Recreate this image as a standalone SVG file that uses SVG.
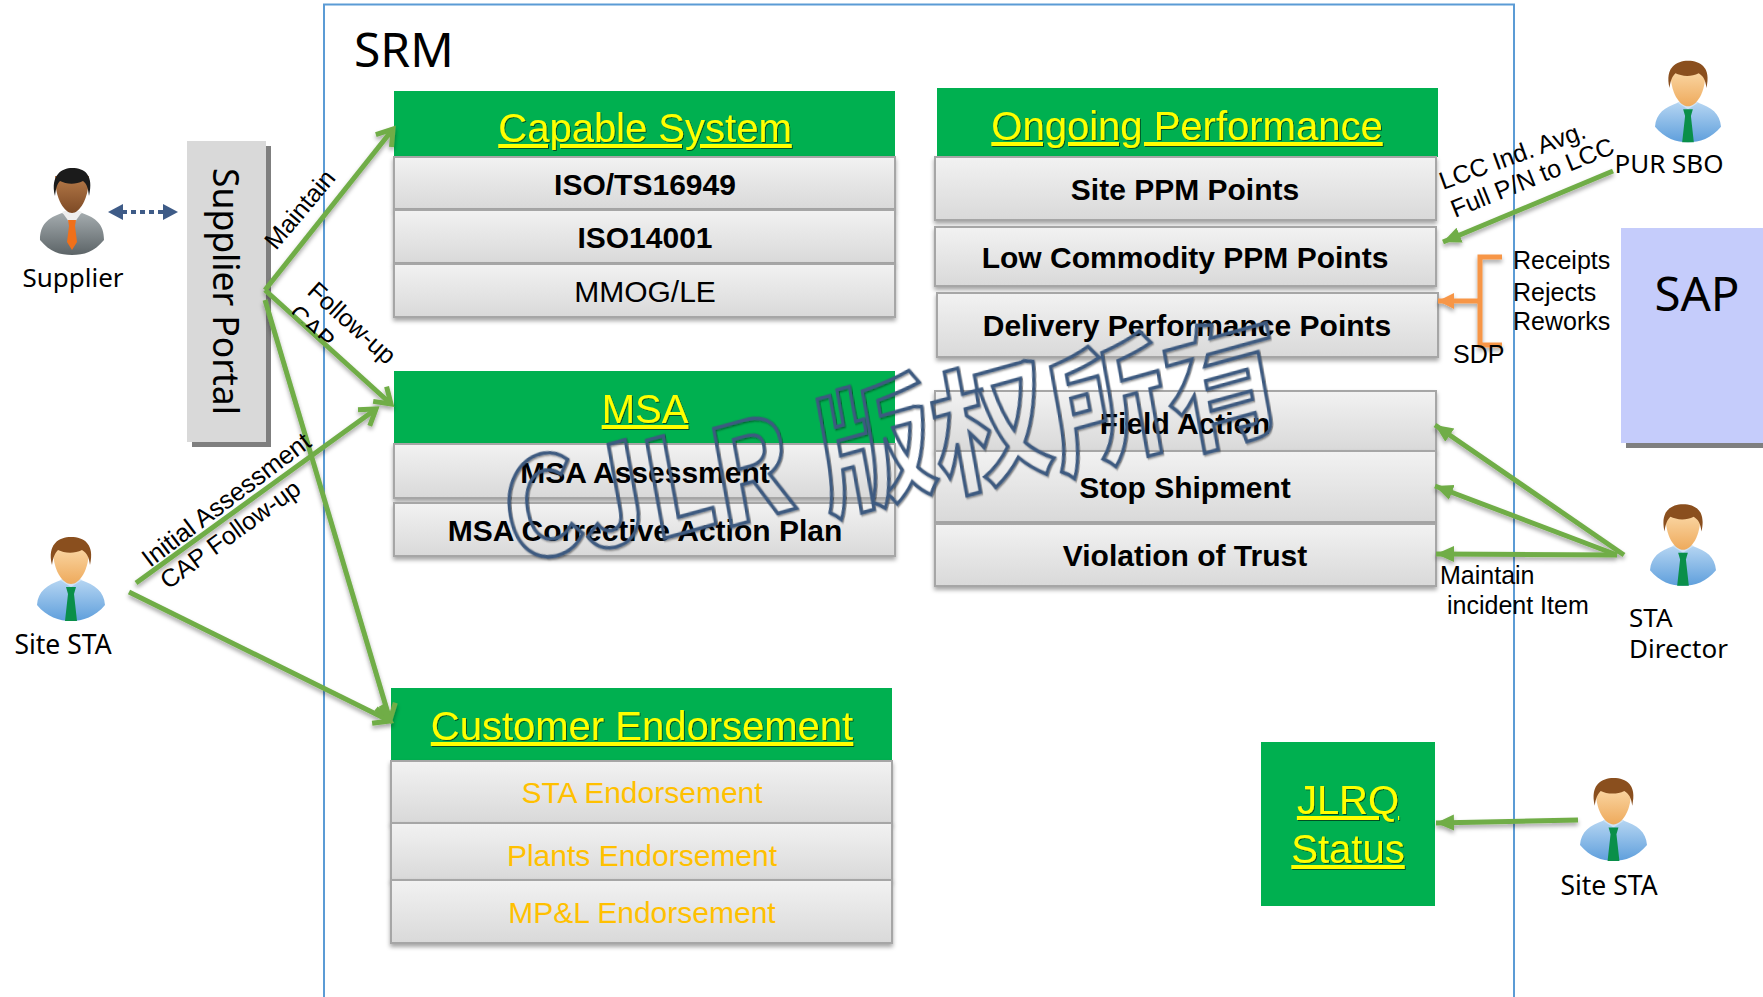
<svg xmlns="http://www.w3.org/2000/svg" width="1763" height="997" viewBox="0 0 1763 997">
<style>
text{font-family:"Liberation Sans",Arial,sans-serif;fill:#000}
.ui{font-family:"Noto Sans","Open Sans",sans-serif}
.lb{font-size:25px}
.rl{font-size:25px}
.hd{font-size:40px;fill:#ff0;text-decoration:underline;text-anchor:middle;filter:url(#ts)}
.bd{font-size:30px;font-weight:bold;text-anchor:middle}
.rg{font-size:30px;text-anchor:middle}
.gd{font-size:30px;text-anchor:middle;fill:#ffc000}
.head{fill:#00b050}
.row{fill:url(#rowg);stroke:#a6a6a6;stroke-width:2;filter:url(#sd)}
.ln{fill:none;stroke:#70ad47;stroke-width:5}
.sh{filter:url(#sd)}
.wm{font-family:"Noto Sans CJK SC","Liberation Sans",sans-serif;font-weight:700;font-size:118px;fill:none;stroke:#3d5a80;stroke-width:3;filter:url(#ts)}
</style>
<defs>
<linearGradient id="rowg" x1="0" y1="0" x2="0" y2="1"><stop offset="0" stop-color="#f2f2f2"/><stop offset="1" stop-color="#d9d9d9"/></linearGradient>
<linearGradient id="shirt" x1="0" y1="0" x2="0" y2="1"><stop offset="0" stop-color="#b5d5f2"/><stop offset="1" stop-color="#5f9fdc"/></linearGradient>
<linearGradient id="skin" x1="0" y1="0" x2="0" y2="1"><stop offset="0" stop-color="#fbd9a8"/><stop offset="1" stop-color="#eeaa5c"/></linearGradient>
<linearGradient id="suit" x1="0" y1="0" x2="0" y2="1"><stop offset="0" stop-color="#a4abae"/><stop offset="1" stop-color="#5c6467"/></linearGradient>
<linearGradient id="dskin" x1="0" y1="0" x2="0" y2="1"><stop offset="0" stop-color="#b67a49"/><stop offset="1" stop-color="#7d4a25"/></linearGradient>
<filter id="sd" x="-10%" y="-20%" width="120%" height="150%"><feDropShadow dx="0" dy="3" stdDeviation="2" flood-color="#000" flood-opacity=".35"/></filter>
<filter id="ts" x="-10%" y="-20%" width="120%" height="140%"><feDropShadow dx="1" dy="1" stdDeviation=".7" flood-color="#000" flood-opacity=".55"/></filter>
<clipPath id="capclip"><rect x="-5" y="-30" width="70" height="25"/></clipPath>
<marker id="open" markerUnits="userSpaceOnUse" markerWidth="30" markerHeight="30" refX="20" refY="15" orient="auto"><path d="M5 5 L20 15 L5 25" fill="none" stroke="#70ad47" stroke-width="5"/></marker>
<marker id="tri" markerUnits="userSpaceOnUse" markerWidth="20" markerHeight="20" refX="18" refY="10" orient="auto"><path d="M0 2 L18 10 L0 18 Z" fill="#70ad47"/></marker>
<marker id="org" markerUnits="userSpaceOnUse" markerWidth="20" markerHeight="20" refX="16" refY="10" orient="auto"><path d="M0 2 L16 10 L0 18 Z" fill="#f79646"/></marker>
<marker id="blS" markerUnits="userSpaceOnUse" markerWidth="16" markerHeight="18" refX="1" refY="9" orient="auto-start-reverse"><path d="M0 1 L15 9 L0 17 Z" fill="#3e5b87"/></marker>
<symbol id="man" viewBox="0 0 68 84" overflow="visible">
<path d="M0 68 C1 54 10 48 24 43 L34 47 L44 43 C58 48 67 54 68 68 C58 80 46 84 34 84 C22 84 10 80 0 68 Z" fill="url(#shirt)"/>
<path d="M23 43 L34 50 L45 43 L34 38 Z" fill="#cfe4f7"/>
<path d="M16 8 C15 34 26 47 34 47 C42 47 53 34 52 8 Z" fill="url(#skin)"/>
<path d="M15 28 C10 7 22 0 34 0 C47 0 58 7 53 28 C52 20 50 16 45 13 C37 17 27 16 21 13 C18 16 16 20 15 28 Z" fill="#8a4f1e"/>
<path d="M29 50 L39 50 L37 57 L40 84 L28 84 L31 57 Z" fill="#0a8f4a"/>
</symbol>
<symbol id="sup" viewBox="0 0 64 87" overflow="visible">
<path d="M0 72 C0 56 8 50 22 45 L32 50 L42 45 C56 50 64 56 64 72 C54 84 44 87 32 87 C20 87 10 84 0 72 Z" fill="url(#suit)"/>
<path d="M22 44 L32 58 L42 44 L32 40 Z" fill="#eee"/>
<path d="M15 8 C15 32 25 45 32 45 C39 45 49 32 49 8 Z" fill="url(#dskin)"/>
<path d="M15 28 C10 7 22 0 32 0 C45 0 54 7 49 28 C48 20 47 16 43 13 C35 17 26 16 20 13 C17 16 16 20 15 28 Z" fill="#1b1b1b"/>
<path d="M28 52 L36 52 L35 58 L37 74 L32 82 L27 74 L29 58 Z" fill="#f0701a"/>
</symbol>
</defs>
<rect width="1763" height="997" fill="#fff"/>
<path id="frame" d="M324 997 V4.500 H1514 V997" fill="none" stroke="#5b9bd5" stroke-width="2"/>
<text class="ui" x="354" y="67" font-size="48">SRM</text>

<g id="supplier"><use href="#sup" x="40" y="168" width="64" height="87"/><text class="ui" x="73" y="287" font-size="26" text-anchor="middle">Supplier</text></g>
<g id="site-sta-left"><use href="#man" x="37" y="537" width="68" height="84"/><text class="ui" x="63" y="654" font-size="26.500" text-anchor="middle">Site STA</text></g>
<g id="pur-sbo"><use href="#man" x="1655" y="59" width="66" height="85"/><text class="ui" x="1669" y="173" font-size="26" text-anchor="middle">PUR SBO</text></g>
<g id="sta-director"><use href="#man" x="1650" y="503" width="66" height="84"/><text class="ui" x="1629" y="627" font-size="26">STA</text><text class="ui" x="1629" y="658" font-size="26">Director</text></g>
<g id="site-sta-right"><use href="#man" x="1580" y="777" width="67" height="85"/><text class="ui" x="1609" y="895" font-size="26.500" text-anchor="middle">Site STA</text></g>

<g id="supplier-portal"><rect x="192" y="146" width="79" height="301" fill="#7f7f7f"/><rect x="187" y="141" width="79" height="301" fill="#d9d9d9"/><text class="ui" transform="translate(213 168) rotate(90)" font-size="35.500">Supplier Portal</text></g>
<g id="sap"><rect x="1626" y="233" width="137" height="215" fill="#7f7f7f"/><rect x="1621" y="228" width="142" height="215" fill="#c5ccfb"/><text class="ui" x="1697" y="311" font-size="47.500" text-anchor="middle">SAP</text></g>

<g id="capable-system">
<rect class="head" x="394" y="91" width="501" height="66"/>
<text class="hd" x="645" y="142">Capable System</text>
<rect class="row" x="394" y="157" width="501" height="52"/><text class="bd" x="645" y="195">ISO/TS16949</text>
<rect class="row" x="394" y="210" width="501" height="53"/><text class="bd" x="645" y="248">ISO14001</text>
<rect class="row" x="394" y="264" width="501" height="53"/><text class="rg" x="645" y="302">MMOG/LE</text>
</g>
<g id="msa">
<rect class="head" x="394" y="371" width="501" height="72"/>
<text class="hd" x="645" y="423">MSA</text>
<rect class="row" x="394" y="444" width="501" height="54"/><text class="bd" x="645" y="483">MSA Assessment</text>
<rect class="row" x="394" y="503" width="501" height="53"/><text class="bd" x="645" y="541">MSA Corrective Action Plan</text>
</g>
<g id="customer-endorsement">
<rect class="head" x="391" y="688" width="501" height="72"/>
<text class="hd" x="642" y="740">Customer Endorsement</text>
<rect class="row" x="391" y="761" width="501" height="62"/><text class="gd" x="642" y="803">STA Endorsement</text>
<rect class="row" x="391" y="823" width="501" height="57"/><text class="gd" x="642" y="866">Plants Endorsement</text>
<rect class="row" x="391" y="880" width="501" height="63"/><text class="gd" x="642" y="923">MP&amp;L Endorsement</text>
</g>
<g id="ongoing-performance">
<rect class="head" x="937" y="88" width="501" height="69"/>
<text class="hd" x="1187" y="140">Ongoing Performance</text>
<rect class="row" x="935" y="157" width="501" height="63"/><text class="bd" x="1185" y="200">Site PPM Points</text>
<rect class="row" x="935" y="227" width="501" height="59"/><text class="bd" x="1185" y="268">Low Commodity PPM Points</text>
<rect class="row" x="937" y="293" width="501" height="64"/><text class="bd" x="1187" y="336">Delivery Performance Points</text>
</g>
<g id="incidents">
<rect class="row" x="935" y="391" width="501" height="60"/><text class="bd" x="1185" y="434">Field Action</text>
<rect class="row" x="935" y="451" width="501" height="71"/><text class="bd" x="1185" y="498">Stop Shipment</text>
<rect class="row" x="935" y="524" width="501" height="62"/><text class="bd" x="1185" y="566">Violation of Trust</text>
</g>
<g id="jlrq">
<rect class="head" x="1261" y="742" width="174" height="164"/>
<text class="hd" x="1348" y="814">JLRQ</text>
<text class="hd" x="1348" y="863">Status</text>
</g>

<g id="connectors">
<g class="sh">
<path class="ln" marker-end="url(#open)" d="M265 290 L393 129"/>
<path class="ln" marker-end="url(#open)" d="M265 290 L391 404"/>
<path class="ln" marker-end="url(#open)" d="M265 300 L390 720"/>
<path class="ln" marker-end="url(#open)" d="M136 583 L376 409"/>
<path class="ln" marker-end="url(#open)" d="M129 592 L390 721"/>
<path class="ln" marker-end="url(#tri)" d="M1613 171 L1443 242"/>
<path class="ln" marker-end="url(#tri)" d="M1624 555 L1435 425"/>
<path class="ln" marker-end="url(#tri)" d="M1617 555 L1435 486"/>
<path class="ln" marker-end="url(#tri)" d="M1617 555 L1436 554"/>
<path class="ln" marker-end="url(#tri)" d="M1578 820 L1436 823"/>
<path d="M1502 257 H1480 V345 H1502" fill="none" stroke="#f79646" stroke-width="5"/>
<path d="M1482 301 L1438 301" fill="none" stroke="#f79646" stroke-width="5" marker-end="url(#org)"/>
</g>
<path d="M122 212 H164" fill="none" stroke="#3e5b87" stroke-width="4" stroke-dasharray="5 4" marker-start="url(#blS)" marker-end="url(#blS)"/>
</g>

<g id="labels">
<text class="rl" transform="translate(276 251) rotate(-50)">Maintain</text>
<text class="rl" transform="translate(306 293) rotate(42)">Follow-up</text>
<g transform="translate(287 316) rotate(42)" clip-path="url(#capclip)"><text class="rl">CAP</text></g>
<text class="rl" transform="translate(150 568) rotate(-37)" style="font-size:25.500px">Initial Assessment</text>
<text class="rl" transform="translate(168 590) rotate(-36)">CAP Follow-up</text>
<text class="rl" transform="translate(1443 190) rotate(-20)">LCC Ind. Avg.</text>
<text class="rl" transform="translate(1455 218) rotate(-22)">Full P/N to LCC</text>
<text class="lb" x="1513" y="269">Receipts</text>
<text class="lb" x="1513" y="301">Rejects</text>
<text class="lb" x="1513" y="330">Reworks</text>
<text class="lb" x="1453" y="363">SDP</text>
<text class="lb" x="1440" y="584">Maintain</text>
<text class="lb" x="1447" y="614">incident Item</text>
</g>

<text id="watermark" class="wm" transform="translate(513 566) rotate(-10) skewX(-4) scale(1 1.14)" rotate="-5">CJLR 版权所有</text>
</svg>
